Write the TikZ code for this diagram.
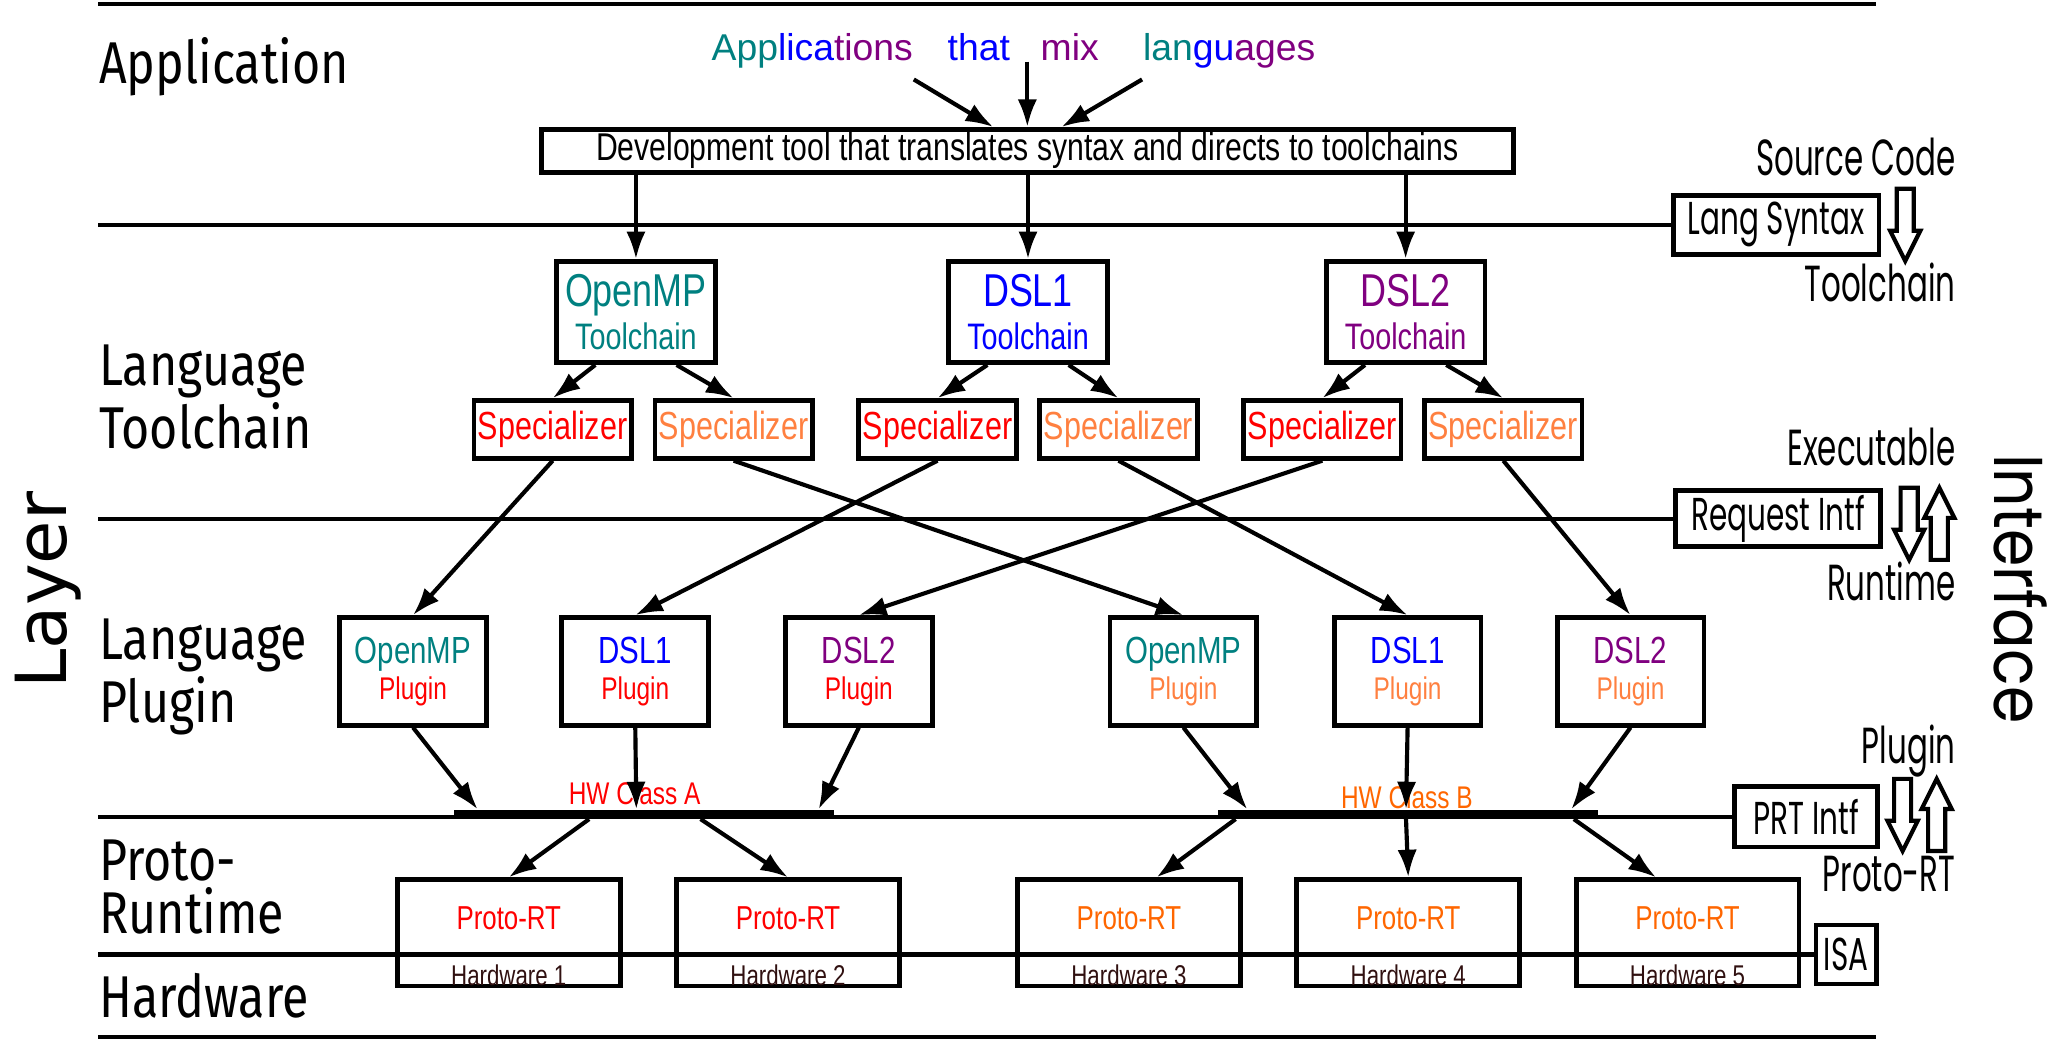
\documentclass[tikz,border=0pt]{standalone}
\usepackage{fontspec}
\usepackage{tikz}
\usetikzlibrary{arrows.meta}
\setmainfont{Liberation Sans}
\newfontfamily\nfont[FakeStretch=0.78]{Liberation Sans}
\newfontfamily\lfont[FakeStretch=0.82]{Fira Sans}
\newfontfamily\dvfont{DejaVu Sans}
\newfontfamily\sfont[FakeStretch=0.61]{Poppins}
\newfontfamily\bfont[FakeStretch=0.64]{Poppins}
\newfontfamily\wfont[FakeStretch=0.87]{Poppins}
\definecolor{tealc}{RGB}{0,128,128}
\definecolor{purplec}{RGB}{128,0,128}
\definecolor{orangeL}{RGB}{255,128,64}
\definecolor{orangeD}{RGB}{255,102,0}
\definecolor{hwc}{RGB}{48,16,16}

\tikzset{
	box/.style={draw, line width=1.05pt, inner sep=0pt},
	arr/.style={-{Latex[length=6pt,width=4.2pt]}, line width=0.9pt},
	sep/.style={line width=0.9pt},
	hollow/.pic={\draw[line width=0.9pt, fill=white] (-6.5,0) -- (6.5,0) -- (6.5,32) -- (11.5,32) -- (0,55) -- (-11.5,32) -- (-6.5,32) -- cycle;}
}

\begin{document}
\begin{tikzpicture}[x=0.1mm, y=-0.1mm,
	layer/.style={anchor=west, align=left, inner sep=0pt, font=\lfont\fontsize{12.8}{11.4}\selectfont},
	side/.style={anchor=base east, inner sep=0pt, font=\sfont\fontsize{11}{11}\selectfont},
	intf/.style={box, font=\bfont\fontsize{10}{10}\selectfont},
	tcbox/.style={box, minimum width=12.1mm, minimum height=7.7mm, align=center, font=\nfont\fontsize{8}{9.4}\selectfont},
	specbox/.style={box, minimum width=12mm, minimum height=4.4mm, font=\nfont\fontsize{8.5}{8.5}\selectfont},
	plugbox/.style={box, minimum width=11.2mm, minimum height=8.2mm, align=center, font=\nfont\fontsize{6.8}{7.7}\selectfont},
	prtbox/.style={box, minimum width=17mm, minimum height=8.1mm},
	bar/.style={fill, inner sep=0pt, minimum width=29mm, minimum height=0.6mm},
	word/.style={anchor=base west, inner sep=0pt, font=\fontsize{8.1}{8.1}\selectfont}]
	\useasboundingbox (0,0) rectangle (1568,794);
	%layer lines
	\draw[sep] (75,3) -- (1431,3);
	\draw[sep] (75,791) -- (1431,791);
	%interface boxes
	\node[intf, minimum width=15.7mm, minimum height=4.5mm] (lang) at (1354.5,171.5) {Lang Syntax};
	\node[intf, minimum width=15.6mm, minimum height=4.3mm] (req) at (1356,395.5) {Request Intf};
	\node[intf, minimum width=10.9mm, minimum height=4.6mm] (prti) at (1377.5,623) {PRT Intf};
	\node[intf, minimum width=4.6mm, minimum height=4.5mm] (isa) at (1408,728) {ISA};
	\draw[sep] (75,171.5) -- (lang.west);
	\draw[sep] (75,395.5) -- (req.west);
	\draw[sep] (75,623) -- (prti.west);
	\draw[sep] (75,728) -- (isa.west);
	\pic at (1453,144) {hollow};
	\pic at (1456,372) {hollow};
	\pic[rotate=180] at (1479,427) {hollow};
	\pic at (1451,594) {hollow};
	\pic[rotate=180] at (1477,649) {hollow};
	%interface labels
	\node[side] (srcl) at (1492,133.5) {Source Code};
	\node[side] (tcl) at (1492,230) {Toolchain};
	\node[side] (exel) at (1492,355) {Executable};
	\node[side] (rtl) at (1492,458) {Runtime};
	\node[side] (plgl) at (1492,582) {Plugin};
	\node[side] (prtl) at (1492,680) {Proto-RT};
	\node[rotate=-90, inner sep=0pt, font=\wfont\fontsize{15}{15}\selectfont] (intfl) at (1541,449) {Interface};
	%layer labels
	\node[rotate=90, inner sep=0pt, font=\dvfont\fontsize{15.3}{15.3}\selectfont] (layerl) at (37,450) {Layer};
	\node[layer, anchor=base west] (appl) at (75,63.6) {Application};
	\node[layer] (ltcl) at (75,303) {Language\\Toolchain};
	\node[layer] (lplgl) at (75,516) {Language\\Plugin};
	\node[layer] (prtrl) at (75,676.5) {Proto-\\Runtime};
	\node[layer, anchor=base west] (hwl) at (75,776) {Hardware};
	%application
	\node[word] (wApp) at (542,46) {\textcolor{tealc}{App}\textcolor{blue}{lica}\textcolor{purplec}{tions}};
	\node[word, text=blue] (wThat) at (722,46) {that};
	\node[word, text=purplec] (wMix) at (793,46) {mix};
	\node[word] (wLang) at (871,46) {\textcolor{tealc}{lan}\textcolor{blue}{gu}\textcolor{purplec}{ages}};
	\node[box, minimum width=74.1mm, minimum height=3.25mm, font=\fontsize{8.4}{8.4}\selectfont\nfont] (dev) at (783.5,115) {Development tool that translates syntax and directs to toolchains};
	\draw[arr] ([yshift=-0.8mm]wApp.south east) -- ([xshift=-2.6mm]dev.north);
	\draw[arr] (dev.north |- wThat.south) -- (dev.north);
	\draw[arr] ([yshift=-0.8mm]wLang.south west) -- ([xshift=2.6mm]dev.north);
	%toolchains
	\node[tcbox, text=tealc] (tcOMP) at (485,238) {{\fontsize{10}{9.4}\selectfont OpenMP}\\Toolchain};
	\node[tcbox, text=blue] (tcDSLa) at (784,238) {{\fontsize{10}{9.4}\selectfont DSL1}\\Toolchain};
	\node[tcbox, text=purplec] (tcDSLb) at (1072,238) {{\fontsize{10}{9.4}\selectfont DSL2}\\Toolchain};
	\foreach \i/\x/\c in {1/421.5/red, 2/559.5/orangeL, 3/715/red, 4/853/orangeL, 5/1008.5/red, 6/1146.5/orangeL}
	\node[specbox, text=\c] (spec\i) at (\x,327.5) {Specializer};
	\foreach \t/\a/\b in {OMP/1/2, DSLa/3/4, DSLb/5/6} {
		\draw[arr] (tc\t.north |- dev.south) -- (tc\t.north);
		\draw[arr] ([xshift=-3.1mm]tc\t.south) -- (spec\a.north);
		\draw[arr] ([xshift=3.1mm]tc\t.south) -- (spec\b.north);
	}
	%plugins
	\foreach \i/\x/\l/\lc/\pc in {1/315/OpenMP/tealc/red, 2/484.5/DSL1/blue/red, 3/655/DSL2/purplec/red, 4/902.5/OpenMP/tealc/orangeL, 5/1073.5/DSL1/blue/orangeL, 6/1243.5/DSL2/purplec/orangeL}
	\node[plugbox] (plg\i) at (\x,512) {\textcolor{\lc}{\fontsize{8.2}{7.7}\selectfont \l}\\\textcolor{\pc}{Plugin}};
	\foreach \s/\p in {1/1, 2/4, 3/2, 4/5, 5/3, 6/6}
	\draw[arr] (spec\s.south) -- (plg\p.north);
	%hardware classes
	\node[bar] (barA) at (491,621) {};
	\node[bar] (barB) at (1074,621) {};
	\node[text=red, inner sep=0pt, font=\nfont\fontsize{6.8}{6.8}\selectfont] (hwA) at (484,605) {HW Class A};
	\node[text=orangeD, inner sep=0pt, font=\nfont\fontsize{6.8}{6.8}\selectfont] (hwB) at (1073,608) {HW Class B};
	\foreach \p/\d in {1/1.9, 2/14, 3/27.9}
	\draw[arr] (plg\p.south) -- ([xshift=\d*1mm]barA.north west);
	\foreach \p/\d in {4/2.3, 5/14.4, 6/27}
	\draw[arr] (plg\p.south) -- ([xshift=\d*1mm]barB.north west);
	%proto-runtimes
	\foreach \n/\x/\c in {1/388/red, 2/601/red, 3/861/orangeD, 4/1074/orangeD, 5/1287/orangeD} {
		\node[prtbox] (prt\n) at (\x,711.5) {};
		\node[text=\c, inner sep=0pt, font=\nfont\fontsize{7.2}{7.2}\selectfont] at ([yshift=1.15mm]prt\n.center) {Proto-RT};
		\node[text=hwc, inner sep=0pt, font=\nfont\fontsize{6.2}{6.2}\selectfont] at ([yshift=1mm]prt\n.south) {Hardware \n};
	}
	\draw[arr] ([xshift=10.4mm]barA.south west) -- (prt1.north);
	\draw[arr] ([xshift=18.9mm]barA.south west) -- (prt2.north);
	\draw[arr] ([xshift=1.4mm]barB.south west) -- ([xshift=2.1mm]prt3.north);
	\draw[arr] ([xshift=14.4mm]barB.south west) -- (prt4.north);
	\draw[arr] ([xshift=27.2mm]barB.south west) -- ([xshift=-2.4mm]prt5.north);
\end{tikzpicture}
\end{document}
